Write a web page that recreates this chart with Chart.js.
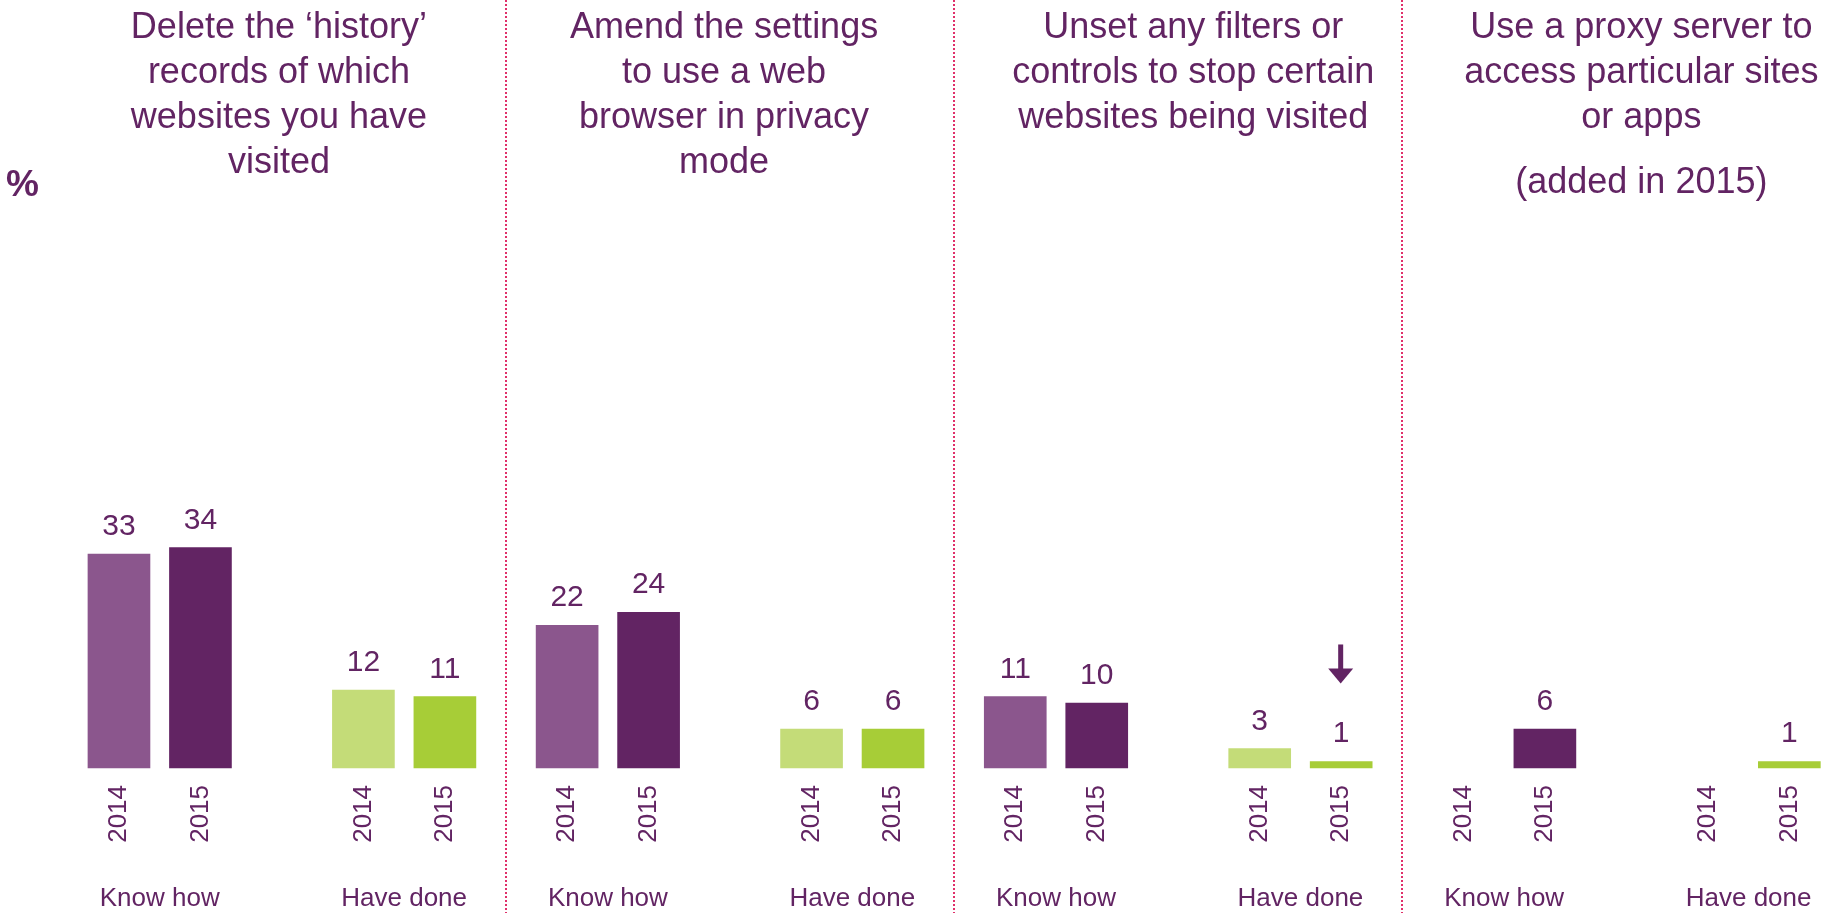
<!DOCTYPE html>
<html>
<head>
<meta charset="utf-8">
<title>Privacy actions</title>
<script src="https://cdn.jsdelivr.net/npm/chart.js@4"></script>
<style>
  body { margin: 0; background: #fff; }
  #wrap { width: 1847px; height: 913px; position: relative; }
</style>
</head>
<body>
<div id="wrap"><canvas id="chart"></canvas></div>
<script>
// data
var panelTitles = [
  ["Delete the \u2018history\u2019", "records of which", "websites you have", "visited"],
  ["Amend the settings", "to use a web", "browser in privacy", "mode"],
  ["Unset any filters or", "controls to stop certain", "websites being visited"],
  ["Use a proxy server to", "access particular sites", "or apps"]
];
var panelNotes = ["", "", "", "(added in 2015)"];
var groupNames = ["Know how", "Have done"];
var years = ["2014", "2015"];
var knowHow2014 = [33, 22, 11, null];
var knowHow2015 = [34, 24, 10, 6];
var haveDone2014 = [12, 6, 3, null];
var haveDone2015 = [11, 6, 1, 1];
// significant fall since 2014 (arrow over the 2015 "have done" bar)
var doneFallArrow = [false, false, true, false];

// colours
var purple = "#622463";
var colKnow14 = "#8b568d";
var colKnow15 = "#622463";
var colDone14 = "#c4dc78";
var colDone15 = "#a7cd37";
var dividerColor = "#e0306a";
var font = "'Liberation Sans', Arial, sans-serif";

// layout: each panel is 11 slots, bars sit on slots 0, 2, 6 and 8
var slotsPerPanel = 11;
var barSlots = [0, 2, 6, 8];
var groupSlots = [1, 7];
var titleShift = [-3, -6, 15, 15];
var nSlots = slotsPerPanel * 3 + 9;

var yearLabels = [];
var groupLabels = [];
var know14 = [], know15 = [], done14 = [], done15 = [];
var arrowSlots = [];
for (var i = 0; i < nSlots; i++) {
  yearLabels.push("");
  groupLabels.push("");
  know14.push(null); know15.push(null); done14.push(null); done15.push(null);
}
for (var p = 0; p < 4; p++) {
  var base = p * slotsPerPanel;
  yearLabels[base + barSlots[0]] = years[0];
  yearLabels[base + barSlots[1]] = years[1];
  yearLabels[base + barSlots[2]] = years[0];
  yearLabels[base + barSlots[3]] = years[1];
  groupLabels[base + groupSlots[0]] = groupNames[0];
  groupLabels[base + groupSlots[1]] = groupNames[1];
  know14[base + barSlots[0]] = knowHow2014[p];
  know15[base + barSlots[1]] = knowHow2015[p];
  done14[base + barSlots[2]] = haveDone2014[p];
  done15[base + barSlots[3]] = haveDone2015[p];
  if (doneFallArrow[p]) arrowSlots.push(base + barSlots[3]);
}

// dividers, titles, % sign, value labels and the arrow
var decorPlugin = {
  id: 'decor',
  afterDraw: function(chart) {
    var ctx = chart.ctx;
    var xs = chart.scales.x;
    ctx.save();

    // dotted dividers between panels
    ctx.strokeStyle = dividerColor;
    ctx.lineWidth = 2;
    ctx.setLineDash([2, 2]);
    for (var p = 1; p < 4; p++) {
      var a = xs.getPixelForValue(p * slotsPerPanel - 2);
      var b = xs.getPixelForValue(p * slotsPerPanel - 1);
      var x = Math.round((a + b) / 2);
      ctx.beginPath();
      ctx.moveTo(x, 0);
      ctx.lineTo(x, chart.height);
      ctx.stroke();
    }
    ctx.setLineDash([]);

    // panel titles
    ctx.fillStyle = purple;
    ctx.textAlign = 'center';
    ctx.textBaseline = 'alphabetic';
    ctx.font = "36px " + font;
    for (var p = 0; p < 4; p++) {
      var cx = xs.getPixelForValue(p * slotsPerPanel + 4) + titleShift[p];
      panelTitles[p].forEach(function(line, k) {
        ctx.fillText(line, cx, 38 + k * 45);
      });
      if (panelNotes[p]) ctx.fillText(panelNotes[p], cx, 193);
    }

    // % sign
    ctx.font = "bold 37px " + font;
    ctx.textAlign = 'left';
    ctx.fillText("%", 6, 196);

    // value labels
    ctx.font = "30px " + font;
    ctx.textAlign = 'center';
    chart.data.datasets.forEach(function(ds, di) {
      var meta = chart.getDatasetMeta(di);
      meta.data.forEach(function(bar, idx) {
        var v = ds.data[idx];
        if (v === null || v === undefined) return;
        ctx.fillText(String(v), bar.x, bar.y - 19);
        if (di === 3 && arrowSlots.indexOf(idx) >= 0) {
          var bottom = bar.y - 19 - 59;
          ctx.fillRect(bar.x - 3, bottom - 39, 5, 26);
          ctx.beginPath();
          ctx.moveTo(bar.x - 13, bottom - 15);
          ctx.lineTo(bar.x + 12, bottom - 15);
          ctx.lineTo(bar.x - 0.5, bottom);
          ctx.closePath();
          ctx.fill();
        }
      });
    });
    ctx.restore();
  }
};

function series(label, data, color) {
  return {
    label: label,
    data: data,
    backgroundColor: color,
    borderWidth: 0,
    barThickness: 62,
    grouped: false,
    skipNull: true,
    clip: false
  };
}

new Chart('chart', {
  type: 'bar',
  data: {
    labels: yearLabels,
    datasets: [
      series("Know how 2014", know14, colKnow14),
      series("Know how 2015", know15, colKnow15),
      series("Have done 2014", done14, colDone14),
      series("Have done 2015", done15, colDone15)
    ]
  },
  options: {
    responsive: true,
    maintainAspectRatio: false,
    animation: false,
    layout: { padding: { top: 379, left: 98.6, right: 37.3, bottom: -24 } },
    plugins: {
      legend: { display: false },
      tooltip: { enabled: false }
    },
    scales: {
      y: {
        display: false,
        min: 0,
        max: 60
      },
      x: {
        weight: 1,
        grid: { display: false, drawTicks: false },
        border: { display: false },
        ticks: {
          autoSkip: false,
          minRotation: 90,
          maxRotation: 90,
          padding: 17,
          color: purple,
          font: { family: font, size: 26 }
        }
      },
      x2: {
        type: 'category',
        position: 'bottom',
        weight: 2,
        labels: groupLabels,
        offset: true,
        grid: { display: false, drawTicks: false },
        border: { display: false },
        ticks: {
          autoSkip: false,
          minRotation: 0,
          maxRotation: 0,
          padding: 23,
          color: purple,
          font: { family: font, size: 26 }
        }
      }
    }
  },
  plugins: [decorPlugin]
});
</script>
</body>
</html>
